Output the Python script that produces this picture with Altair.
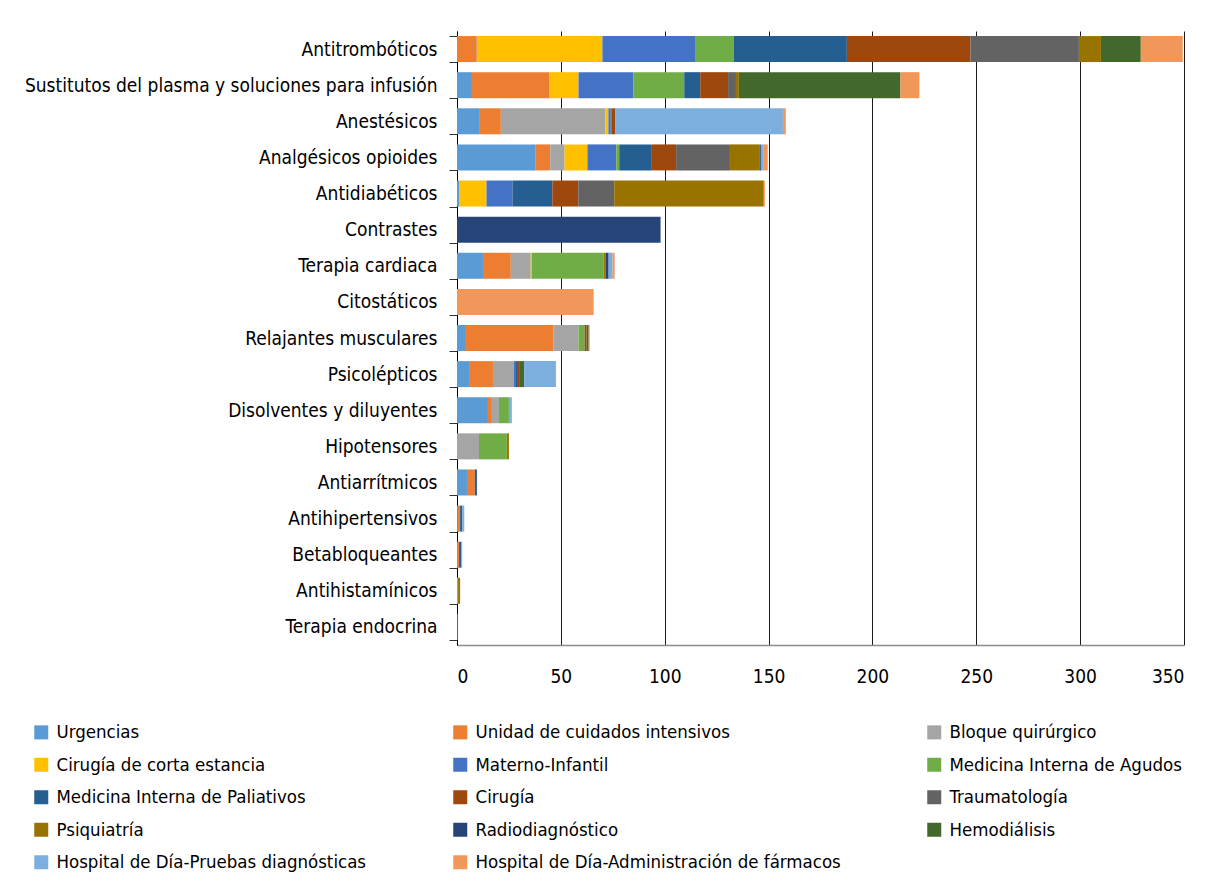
import altair as alt
import pandas as pd

categories = [
    "Antitrombóticos",
    "Sustitutos del plasma y soluciones para infusión",
    "Anestésicos",
    "Analgésicos opioides",
    "Antidiabéticos",
    "Contrastes",
    "Terapia cardiaca",
    "Citostáticos",
    "Relajantes musculares",
    "Psicolépticos",
    "Disolventes y diluyentes",
    "Hipotensores",
    "Antiarrítmicos",
    "Antihipertensivos",
    "Betabloqueantes",
    "Antihistamínicos",
    "Terapia endocrina",
]

series = [
    "Urgencias",
    "Unidad de cuidados intensivos",
    "Bloque quirúrgico",
    "Cirugía de corta estancia",
    "Materno-Infantil",
    "Medicina Interna de Agudos",
    "Medicina Interna de Paliativos",
    "Cirugía",
    "Traumatología",
    "Psiquiatría",
    "Radiodiagnóstico",
    "Hemodiálisis",
    "Hospital de Día-Pruebas diagnósticas",
    "Hospital de Día-Administración de fármacos",
]

colors = [
    "#5B9BD5", "#ED7D31", "#A5A5A5", "#FFC000", "#4472C4", "#70AD47", "#255E91",
    "#9E480E", "#636363", "#997300", "#264478", "#43682B", "#7CAFDD", "#F1975A",
]

# values per series, in the order of `categories`
urgencias        = [0,    7.2,  11.0, 37.9, 1.2,  0,  12.5, 0,    4.3,  5.8,  14.9, 0,    4.8, 0.5, 0,   0,   0]
uci              = [9.5,  37.4, 10.1, 7.0,  0,    0,  13.4, 0,    42.2, 11.5, 1.9,  0,    3.8, 1.0, 1.0, 0,   0]
bloque           = [0.5,  0,    50.4, 6.9,  0,    0,  9.6,  0,    12.0, 10.1, 3.4,  10.6, 0,   0,   0,   0.5, 0]
cirugia_corta    = [60.0, 13.9, 1.4,  11.0, 13.0, 0,  0.5,  0,    0,    0,    0,    0,    0,   0,   0,   0,   0]
materno          = [44.6, 26.4, 1.0,  13.9, 12.5, 0,  0,    0,    0,    1.0,  0,    0,    0,   0,   0,   0,   0]
mi_agudos        = [18.7, 24.5, 0,    1.4,  0,    0,  34.6, 0,    2.9,  0,    4.8,  13.4, 0,   0,   0,   0,   0]
mi_paliativos    = [54.4, 7.7,  0.5,  15.7, 19.2, 0,  0,    0,    0,    0.5,  0,    0,    1.0, 1.0, 1.0, 0,   0]
cirugia          = [59.5, 13.4, 1.9,  11.7, 12.5, 0,  0,    0,    1.0,  1.0,  0,    0,    0,   0,   0,   0,   0]
traumatologia    = [52.2, 3.8,  0,    25.9, 17.3, 0,  0,    0,    0,    0,    0,    0,    0,   0,   0,   0,   0.5]
psiquiatria      = [10.6, 1.4,  0,    14.4, 72.0, 0,  1.0,  0,    0,    0,    0,    1.0,  0,   0,   0,   1.0, 0]
radiodiagnostico = [0,    0,    0,    0.5,  0,    98, 1.4,  0,    0,    0,    0,    0,    0,   0,   0,   0,   0]
hemodialisis     = [19.2, 77.8, 0,    0,    0,    0,  0,    0,    1.0,  2.4,  0,    0,    0,   0,   0,   0,   0]
hd_pruebas       = [0,    0,    80.6, 1.1,  0,    0,  1.9,  0,    0,    14.9, 1.4,  0,    0,   1.0, 0.5, 0,   0]
hd_admin         = [20.2, 9.1,  1.4,  2.2,  0.5,  0,  1.0,  65.8, 0.5,  0.5,  0,    0,    0,   0,   0,   0,   0]

values = [urgencias, uci, bloque, cirugia_corta, materno, mi_agudos, mi_paliativos,
          cirugia, traumatologia, psiquiatria, radiodiagnostico, hemodialisis,
          hd_pruebas, hd_admin]

rows = []
for si, (name, vals) in enumerate(zip(series, values)):
    for ci, cat in enumerate(categories):
        if vals[ci] > 0:
            rows.append({"categoria": cat, "servicio": name, "valor": vals[ci], "orden": si})
df = pd.DataFrame(rows)

FONT = "DejaVu Sans Condensed, DejaVu Sans, sans-serif"

chart = alt.Chart(df).mark_bar().encode(
    x=alt.X(
        "valor:Q",
        stack="zero",
        title=None,
        scale=alt.Scale(domain=[0, 350], nice=False),
        axis=alt.Axis(
            values=[0, 50, 100, 150, 200, 250, 300, 350],
            grid=True, gridColor="#1a1a1a", gridWidth=1,
            domainColor="#8c8c8c", domainWidth=1.5,
            ticks=False, labelPadding=22, labelFontSize=19,
            labelColor="#000000", labelFont=FONT,
        ),
    ),
    y=alt.Y(
        "categoria:N",
        sort=categories,
        title=None,
        scale=alt.Scale(paddingInner=0.28, paddingOuter=0.14),
        axis=alt.Axis(
            grid=False, domainColor="#000000", domainWidth=1,
            ticks=True, tickBand="extent", tickSize=8, tickColor="#333333",
            labelPadding=12, labelFontSize=19, labelColor="#000000",
            labelFont=FONT, labelLimit=500,
        ),
    ),
    color=alt.Color(
        "servicio:N",
        title=None,
        scale=alt.Scale(domain=series, range=colors),
        legend=alt.Legend(
            orient="none", legendX=-425, legendY=692,
            direction="horizontal",
            columns=3, columnPadding=84, rowPadding=13.5,
            symbolType="square", symbolSize=196, symbolStrokeWidth=0,
            labelFontSize=18.5, labelFont=FONT, labelColor="#000000",
            labelOffset=6, labelLimit=600, gridAlign="each",
        ),
    ),
    order=alt.Order("orden:Q"),
).properties(
    width=727,
    height=614,
    autosize=alt.AutoSizeParams(type="none"),
    padding={"left": 449, "top": 23, "right": 12, "bottom": 230},
).configure(
    font=FONT,
).configure_view(
    stroke=None,
)

chart.save("out.html", embed_options={"renderer": "svg", "actions": False})
